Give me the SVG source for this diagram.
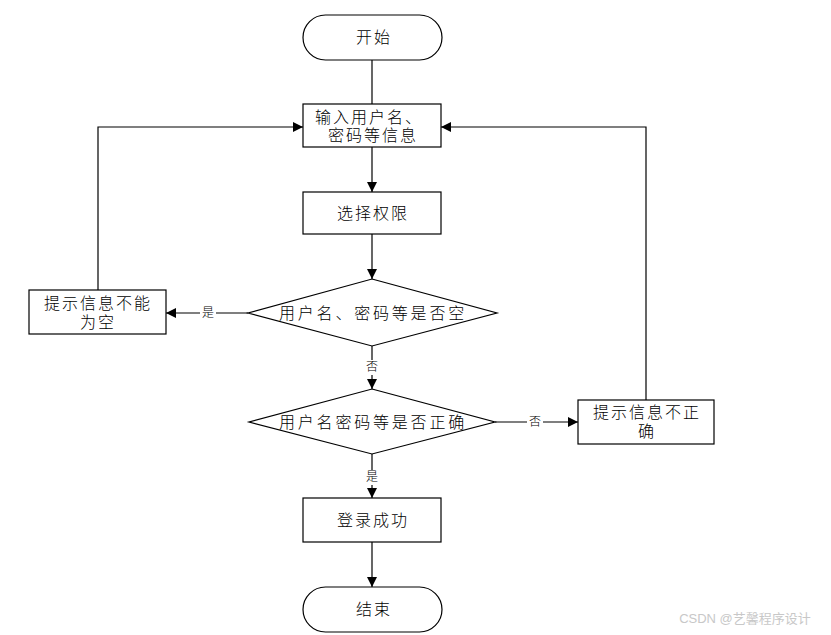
<svg xmlns="http://www.w3.org/2000/svg" width="831" height="635" viewBox="0 0 831 635">
<style>
.s{fill:#fff;stroke:#000;stroke-width:1.2}
.t{font-family:"Liberation Serif","Noto Sans CJK SC",serif;font-size:16px;font-weight:300;fill:#000;text-anchor:middle;letter-spacing:2px}
.d{letter-spacing:2.8px}
.l{font-family:"Liberation Serif","Noto Sans CJK SC",serif;font-size:12px;font-weight:300;fill:#000;text-anchor:middle}
.c{fill:none;stroke:#000;stroke-width:1.2}
.lb{fill:#fff}
</style>
<defs>
<marker id="a" viewBox="0 0 10 10" refX="10" refY="5" markerWidth="10" markerHeight="10" markerUnits="userSpaceOnUse" orient="auto">
<path d="M0,0 L10,5 L0,10 z" fill="#000"/>
</marker>
</defs>
<rect width="831" height="635" fill="#fff"/>
<g id="connectors">
<path class="c" d="M372,60 V104"/>
<path class="c" d="M372,147 V192" marker-end="url(#a)"/>
<path class="c" d="M372,234 V279" marker-end="url(#a)"/>
<path class="c" d="M248,313 H166" marker-end="url(#a)"/>
<path class="c" d="M98,290 V127 H303" marker-end="url(#a)"/>
<path class="c" d="M372,346 V389" marker-end="url(#a)"/>
<path class="c" d="M495,422 H578" marker-end="url(#a)"/>
<path class="c" d="M646,400 V127 H441" marker-end="url(#a)"/>
<path class="c" d="M372,454 V498" marker-end="url(#a)"/>
<path class="c" d="M372,542 V587" marker-end="url(#a)"/>
<rect class="lb" x="200" y="305" width="16" height="16"/>
<text class="l" x="208" y="317">是</text>
<rect class="lb" x="365" y="360" width="14" height="15"/>
<text class="l" x="372" y="371">否</text>
<rect class="lb" x="527" y="414" width="16" height="16"/>
<text class="l" x="535" y="426">否</text>
<rect class="lb" x="365" y="470" width="14" height="15"/>
<text class="l" x="372" y="481">是</text>
</g>
<g id="start">
<rect class="s" x="303" y="15" width="139" height="45" rx="22.5"/>
<text class="t" x="374" y="43">开始</text>
</g>
<g id="input">
<rect class="s" x="303" y="104" width="138" height="43"/>
<text class="t" x="369" y="123">输入用户名、</text>
<text class="t" x="373" y="141">密码等信息</text>
</g>
<g id="select">
<rect class="s" x="303" y="192" width="138" height="42"/>
<text class="t" x="373" y="219">选择权限</text>
</g>
<g id="check-empty">
<polygon class="s" points="372,279 497,313 372,346 248,313"/>
<text class="t d" x="373" y="319">用户名、密码等是否空</text>
</g>
<g id="empty-msg">
<rect class="s" x="29" y="290" width="137" height="44"/>
<text class="t" x="98" y="309">提示信息不能</text>
<text class="t" x="98" y="328">为空</text>
</g>
<g id="check-correct">
<polygon class="s" points="372,389 495,422 372,454 249,422"/>
<text class="t d" x="373" y="428">用户名密码等是否正确</text>
</g>
<g id="wrong-msg">
<rect class="s" x="578" y="400" width="136" height="44"/>
<text class="t" x="647" y="418">提示信息不正</text>
<text class="t" x="647" y="437">确</text>
</g>
<g id="success">
<rect class="s" x="303" y="498" width="138" height="44"/>
<text class="t" x="373" y="526">登录成功</text>
</g>
<g id="end">
<rect class="s" x="303" y="587" width="139" height="45" rx="22.5"/>
<text class="t" x="374" y="615">结束</text>
</g>
<text x="745" y="623" font-family="'Liberation Sans','Noto Sans CJK SC',sans-serif" font-size="13" fill="#c8c8c8" text-anchor="middle">CSDN @艺馨程序设计</text>
</svg>
